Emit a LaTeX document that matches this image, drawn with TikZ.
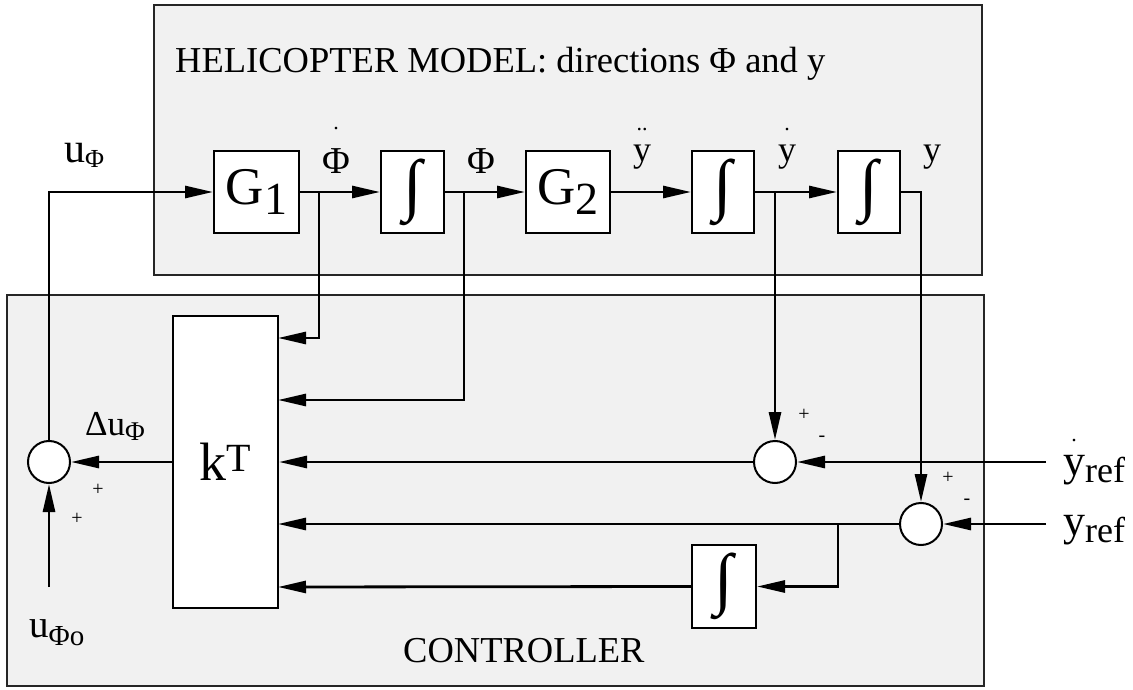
\documentclass[tikz,border=0pt]{standalone}
\usepackage{fontspec}
\setmainfont{Liberation Serif}
\usetikzlibrary{arrows.meta}
\newcommand{\sz}[1]{\fontsize{#1}{#1}\selectfont}
\newcommand{\sdot}{{\sz{22}.}}
\definecolor{panelgray}{gray}{0.945}

\begin{document}
\begin{tikzpicture}[x=1pt, y=-1pt,
  panel/.style={fill=panelgray, draw=black!85, line width=1.5pt},
  blk/.style={rectangle, draw, fill=white, line width=2pt, minimum height=82pt, inner sep=0pt},
  sumc/.style={circle, draw, fill=white, line width=2pt, minimum size=42pt, inner sep=0pt},
  lbl/.style={inner sep=0pt, anchor=base},
  sgn/.style={inner sep=0pt, font=\sz{20}},
  sig/.style={-{Triangle[length=28pt, width=12pt]}, line width=2.8pt}
]
\useasboundingbox (0,0) rectangle (1133,690);

% panels
\draw[panel] (154,5) rectangle (982,275);
\draw[panel] (7,295) rectangle (984,686);

\node[lbl, anchor=base west] (title) at (175,73) {\sz{36.5}HELICOPTER MODEL: directions Φ and y};
\node[lbl, anchor=base west] (ctrl)  at (403,662) {\sz{36.5}CONTROLLER};

% helicopter model
\node[blk, minimum width=85pt] (G1) at (256.5,192) {\sz{53}G\raisebox{-10pt}{\sz{46}1}};
\node[blk, minimum width=63pt] (I1) at (412.5,192) {\sz{68}∫};
\node[blk, minimum width=84pt] (G2) at (568,192)   {\sz{53}G\raisebox{-10pt}{\sz{46}2}};
\node[blk, minimum width=62pt] (I2) at (723,192)   {\sz{68}∫};
\node[blk, minimum width=62pt] (I3) at (869,192)   {\sz{68}∫};

% controller
\node[blk, minimum width=105pt, minimum height=292pt] (K) at (225.5,462)
  {\sz{54}k\raisebox{9.5pt}{\sz{40}T}};
\node[blk, minimum width=64pt, minimum height=83pt] (I4) at (724,586.5) {\sz{68}∫};
\node[sumc] (S1) at (49,462)  {};
\node[sumc] (S2) at (775,462) {};
\node[sumc] (S3) at (921,524) {};

% branch points and free ends
\coordinate (phid) at (319,193);
\coordinate (phi)  at (464,193);
\coordinate (yd)   at (775,193);
\coordinate (ye)   at (838,524);
\coordinate (in1)  at (278,338);
\coordinate (in2)  at (278,400);
\coordinate (in4)  at (278,524);
\coordinate (in5)  at (278,587);
\coordinate (ydref) at (1046,462);
\coordinate (yref)  at (1046,524);
\coordinate (uphio) at (49,587);

% signals
\draw[sig] (S1.north) |- (G1.west);
\draw[sig] (G1) -- (I1);
\draw[sig] (I1) -- (G2);
\draw[sig] (G2) -- (I2);
\draw[sig] (I2) -- (I3);
\draw[sig] (phid) |- (in1);
\draw[sig] (phi) |- (in2);
\draw[sig] (yd) -- (S2.north);
\draw[sig] (I3.east) -| (S3.north);
\draw[sig] (ydref) -- (S2.east);
\draw[sig] (yref) -- (S3.east);
\draw[sig] (S2.west) -- (K.east);
\draw[sig] (S3.west) -- (in4);
\draw[sig] (ye) |- (I4.east);
\draw[sig] (I4.west) -- (in5);
\draw[sig] (K.west) -- (S1.east);
\draw[sig] (uphio) -- (S1.south);

% labels
\node[lbl, anchor=base west] (luphi) at (64,163) {\sz{42}u\raisebox{-5pt}{\sz{26}Φ}};
\node[lbl] (lphid) at (336,174) {\sz{38}\shortstack{\sdot\\[16pt]Φ}};
\node[lbl] (lphi)  at (481,174) {\sz{38}Φ};
\node[lbl] (lydd)  at (642,162) {\sz{36}\shortstack{\sdot\sdot\\[12pt]y}};
\node[lbl] (lyd)   at (787,162) {\sz{36}\shortstack{\sdot\\[12pt]y}};
\node[lbl] (ly)    at (932,162) {\sz{36}y};
\node[lbl, anchor=base west] (ldu) at (85,435) {\sz{35}Δu\raisebox{-5pt}{\sz{27}Φ}};
\node[lbl, anchor=base west] (luo) at (29,637) {\sz{39}u\raisebox{-8pt}{\sz{29}Φo}};
\node[lbl, anchor=base west] (lydref) at (1063,475) {\sz{44}\shortstack{\sdot\\[10pt]y}\raisebox{-7pt}{\sz{36}ref}};
\node[lbl, anchor=base west] (lyref)  at (1063,535) {\sz{44}y\raisebox{-7pt}{\sz{36}ref}};

% signs
\node[sgn] (p1) at (98,490)  {+};
\node[sgn] (p2) at (77,519)  {+};
\node[sgn] (p3) at (804,415) {+};
\node[sgn] (m3) at (822,439) {-};
\node[sgn] (p4) at (948,478) {+};
\node[sgn] (m4) at (967,502) {-};

\end{tikzpicture}
\end{document}
